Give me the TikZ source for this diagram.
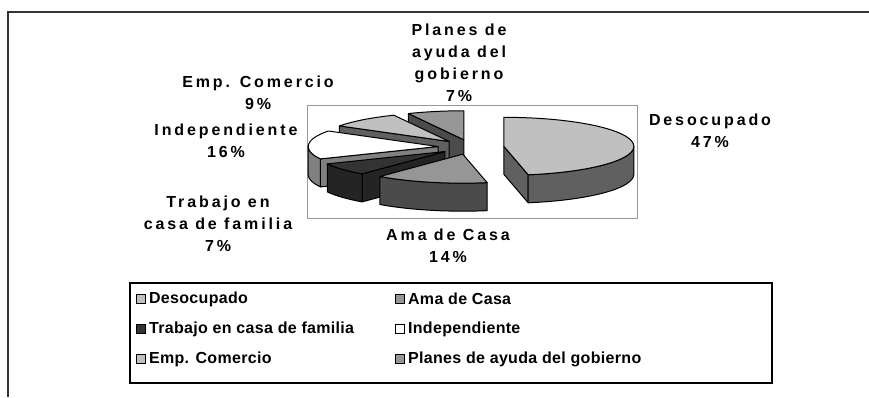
\documentclass[tikz,border=0pt]{standalone}
\usepackage{fontspec}
\setmainfont{Liberation Sans}
\newfontfamily\lblfont[LetterSpace=18,UprightFont={* Bold}]{Liberation Sans}
\newfontfamily\legfont[LetterSpace=2,UprightFont={* Bold}]{Liberation Sans}
\usetikzlibrary{calc,positioning}

\definecolor{grisclaro}{HTML}{C0C0C0}
\definecolor{grismedio}{HTML}{969696}
\definecolor{grisoscuro}{HTML}{333333}
\definecolor{marco}{HTML}{999999}

% apex and rim corners of one exploded slice
\newcommand{\slicepts}[3]{%
  \pgfmathsetmacro{\bis}{(#2+#3)/2}
  \coordinate (#1) at ($(pie)+({33*cos(\bis)},{7.4*sin(\bis)})$);
  \coordinate (#1-s) at ($(#1)+({130*cos(#2)},{29*sin(#2)})$);
  \coordinate (#1-e) at ($(#1)+({130*cos(#3)},{29*sin(#3)})$);
}

\begin{document}
\begin{tikzpicture}[x=1pt,y=1pt,
  slicetop/.style={fill=#1,draw=black,line width=1pt,line join=round},
  slicewall/.style={fill=#1,draw=black,line width=1pt,line join=round},
  rim/.style={x radius=130,y radius=29},
  lbl/.style={align=center,font=\lblfont\fontsize{16}{22}\selectfont},
  leg/.style={font=\legfont\fontsize{16}{18}\selectfont,inner sep=0pt},
  legbox/.style={draw=black,line width=0.8pt,minimum size=9pt,inner sep=0pt}]
\useasboundingbox (0,0) rectangle (869,-397);

% Frame and plot area
\draw[line width=1.5pt,black!80] (8,-397) -- (8,-12) -- (869,-12);
\draw[marco,line width=1pt] (307,-105) rectangle (637,-218);
\coordinate (pie) at (471,-147);

% Planes de ayuda del gobierno
\slicepts{pla}{90}{115.2}
\filldraw[slicewall=grismedio!50!black] (pla) -- (pla-e) -- ++(0,-28) -- ($(pla)+(0,-28)$) -- cycle;
\filldraw[slicetop=grismedio] (pla) -- (pla-s) arc[rim,start angle=90,end angle=115.2] -- cycle;

% Emp. Comercio
\slicepts{emp}{115.2}{147.6}
\filldraw[slicewall=grisclaro!50!black] (emp) -- (emp-e) -- ++(0,-28) -- ($(emp)+(0,-28)$) -- cycle;
\filldraw[slicetop=grisclaro] (emp) -- (emp-s) arc[rim,start angle=115.2,end angle=147.6] -- cycle;

% Independiente
\slicepts{ind}{147.6}{205.2}
\filldraw[slicewall=black!50] (ind) -- (ind-e) -- ++(0,-28) -- ($(ind)+(0,-28)$) -- cycle;
\filldraw[slicewall=black!50] ($(ind)+(-130,0)$) arc[rim,start angle=180,end angle=205.2] -- ++(0,-28) arc[rim,start angle=205.2,end angle=180] -- cycle;
\filldraw[slicetop=white] (ind) -- (ind-s) arc[rim,start angle=147.6,end angle=205.2] -- cycle;

% Trabajo en casa de familia
\slicepts{tra}{-154.8}{-129.6}
\filldraw[slicewall=grisoscuro!70!black] (tra) -- (tra-e) -- ++(0,-28) -- ($(tra)+(0,-28)$) -- cycle;
\filldraw[slicewall=grisoscuro!70!black] (tra-s) arc[rim,start angle=-154.8,end angle=-129.6] -- ++(0,-28) arc[rim,start angle=-129.6,end angle=-154.8] -- cycle;
\filldraw[slicetop=grisoscuro] (tra) -- (tra-s) arc[rim,start angle=-154.8,end angle=-129.6] -- cycle;

% Ama de Casa
\slicepts{ama}{-129.6}{-79.2}
\filldraw[slicewall=grismedio!50!black] (ama-s) arc[rim,start angle=-129.6,end angle=-79.2] -- ++(0,-28) arc[rim,start angle=-79.2,end angle=-129.6] -- cycle;
\filldraw[slicetop=grismedio] (ama) -- (ama-s) arc[rim,start angle=-129.6,end angle=-79.2] -- cycle;

% Desocupado
\slicepts{des}{-79.2}{90}
\filldraw[slicewall=grisclaro!50!black] (des) -- (des-s) -- ++(0,-28) -- ($(des)+(0,-28)$) -- cycle;
\filldraw[slicewall=grisclaro!50!black] (des-s) arc[rim,start angle=-79.2,end angle=0] -- ++(0,-28) arc[rim,start angle=0,end angle=-79.2] -- cycle;
\filldraw[slicetop=grisclaro] (des) -- (des-s) arc[rim,start angle=-79.2,end angle=90] -- cycle;

% Labels
\node[lbl] (lpla) at (459,-63) {Planes de\\ayuda del\\gobierno\\7\%};
\node[lbl] (lemp) at (258,-93) {Emp. Comercio\\9\%};
\node[lbl] (lind) at (226,-141) {Independiente\\16\%};
\node[lbl] (ltra) at (218,-224) {Trabajo en\\casa de familia\\7\%};
\node[lbl] (ldes) at (710,-131) {Desocupado\\47\%};
\node[lbl] (lama) at (448,-246) {Ama de Casa\\14\%};

% Legend
\draw[line width=1.2pt] (130,-283) rectangle (772,-383);
\node[legbox,fill=grisclaro] (kdes) at (141,-299) {};
\node[leg,right=3pt of kdes] (tdes) {Desocupado};
\node[legbox,fill=grismedio] (kama) at (400,-299) {};
\node[leg,right=3pt of kama] (tama) {Ama de Casa};
\node[legbox,fill=grisoscuro] (ktra) at (141,-329) {};
\node[leg,right=3pt of ktra] (ttra) {Trabajo en casa de familia};
\node[legbox,fill=white] (kind) at (400,-329) {};
\node[leg,right=3pt of kind] (tind) {Independiente};
\node[legbox,fill=grisclaro] (kemp) at (141,-359) {};
\node[leg,right=3pt of kemp] (temp) {Emp. Comercio};
\node[legbox,fill=grismedio] (kpla) at (400,-359) {};
\node[leg,right=3pt of kpla] (tpla) {Planes de ayuda del gobierno};
\end{tikzpicture}
\end{document}
